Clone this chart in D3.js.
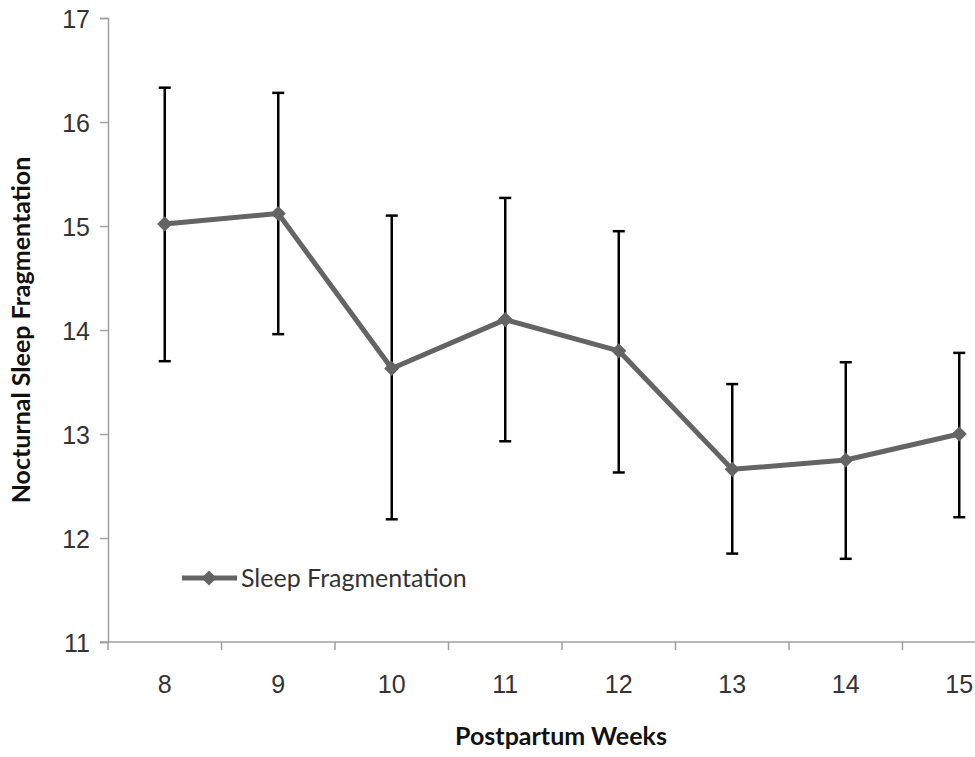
<!DOCTYPE html>
<html>
<head>
<meta charset="utf-8">
<script src="https://cdn.jsdelivr.net/npm/d3@7"></script>
<style>
    body { margin: 0; background: #fff; }
    svg { display: block; font-family: Lato, "Open Sans", sans-serif; }
</style>
</head>
<body>
<svg id="chart" width="975" height="757"></svg>
<script>
// Data
const weeks = ['8', '9', '10', '11', '12', '13', '14', '15'];
const means = [15.02, 15.12, 13.63, 14.10, 13.80, 12.66, 12.75, 13.00];
const upper = [16.33, 16.28, 15.10, 15.27, 14.95, 13.48, 13.69, 13.78];
const lower = [13.70, 13.96, 12.18, 12.93, 12.63, 11.85, 11.80, 12.20];
const yTicks = [11, 12, 13, 14, 15, 16, 17];

const rows = weeks.map((w, i) => ({ week: w, mean: means[i], hi: upper[i], lo: lower[i] }));

const svg = d3.select('#chart');
const axisColor = '#a0a0a0';
const textColor = '#333';

// Plot area runs off the right edge, like the original screenshot
const x = d3.scaleBand()
    .domain(weeks)
    .range([108, 1016])
    .padding(0);

const y = d3.scaleLinear()
    .domain([11, 17])
    .range([642, 18]);

const cx = d => x(d.week) + x.bandwidth() / 2;

// Y axis
const yAxis = svg.append('g')
    .attr('transform', 'translate(108,0)')
    .call(d3.axisLeft(y).tickValues(yTicks).tickSize(8).tickPadding(10).tickFormat(d3.format('d')));
yAxis.select('.domain').attr('stroke', axisColor).attr('stroke-width', 1.5);
yAxis.selectAll('.tick line').attr('stroke', axisColor).attr('stroke-width', 1.5);
yAxis.selectAll('.tick text')
    .attr('fill', textColor)
    .style('font-size', '25px')
    .attr('dy', '0.36em');

// X axis: labels at category centers, tick marks at category edges
const xAxis = svg.append('g')
    .attr('transform', 'translate(0,642)')
    .call(d3.axisBottom(x).tickSize(0).tickPadding(33));
xAxis.select('.domain').remove();
xAxis.selectAll('.tick text')
    .attr('fill', textColor)
    .style('font-size', '25px');

svg.append('line')
    .attr('x1', 100).attr('x2', 975)
    .attr('y1', 642).attr('y2', 642)
    .attr('stroke', axisColor).attr('stroke-width', 1.5);

svg.append('g')
    .selectAll('line')
    .data(weeks)
    .join('line')
    .attr('x1', d => x(d)).attr('x2', d => x(d))
    .attr('y1', 642).attr('y2', 650)
    .attr('stroke', axisColor).attr('stroke-width', 1.5);

// Error bars
const bars = svg.append('g')
    .attr('stroke', '#000')
    .attr('stroke-width', 2.5);

bars.selectAll('line.stem')
    .data(rows)
    .join('line')
    .attr('class', 'stem')
    .attr('x1', cx).attr('x2', cx)
    .attr('y1', d => y(d.hi)).attr('y2', d => y(d.lo));

bars.selectAll('line.cap-hi')
    .data(rows)
    .join('line')
    .attr('class', 'cap-hi')
    .attr('x1', d => cx(d) - 6).attr('x2', d => cx(d) + 6)
    .attr('y1', d => y(d.hi)).attr('y2', d => y(d.hi));

bars.selectAll('line.cap-lo')
    .data(rows)
    .join('line')
    .attr('class', 'cap-lo')
    .attr('x1', d => cx(d) - 6).attr('x2', d => cx(d) + 6)
    .attr('y1', d => y(d.lo)).attr('y2', d => y(d.lo));

// Series line and diamond markers
const lineColor = '#646464';
const line = d3.line().x(cx).y(d => y(d.mean));

svg.append('path')
    .datum(rows)
    .attr('fill', 'none')
    .attr('stroke', lineColor)
    .attr('stroke-width', 5)
    .attr('stroke-linejoin', 'round')
    .attr('d', line);

const diamond = d3.symbol().type(d3.symbolSquare).size(115);
svg.append('g')
    .selectAll('path')
    .data(rows)
    .join('path')
    .attr('d', diamond)
    .attr('fill', lineColor)
    .attr('transform', d => `translate(${cx(d)},${y(d.mean)}) rotate(45)`);

// Legend
const legend = svg.append('g').attr('transform', 'translate(182,578)');
legend.append('line')
    .attr('x1', 0).attr('x2', 55)
    .attr('stroke', lineColor).attr('stroke-width', 5);
legend.append('path')
    .attr('d', diamond)
    .attr('fill', lineColor)
    .attr('transform', 'translate(27,0) rotate(45)');
legend.append('text')
    .attr('x', 59).attr('y', 0).attr('dy', '0.36em')
    .attr('fill', textColor)
    .style('font-size', '25px')
    .text('Sleep Fragmentation');

// Axis titles
svg.append('text')
    .attr('x', 561).attr('y', 745)
    .attr('text-anchor', 'middle')
    .attr('fill', '#111')
    .style('font-size', '25px')
    .style('font-weight', 'bold')
    .text('Postpartum Weeks');

svg.append('text')
    .attr('transform', 'translate(30,330) rotate(-90)')
    .attr('text-anchor', 'middle')
    .attr('fill', '#111')
    .style('font-size', '25px')
    .style('font-weight', 'bold')
    .text('Nocturnal Sleep Fragmentation');
</script>
</body>
</html>
